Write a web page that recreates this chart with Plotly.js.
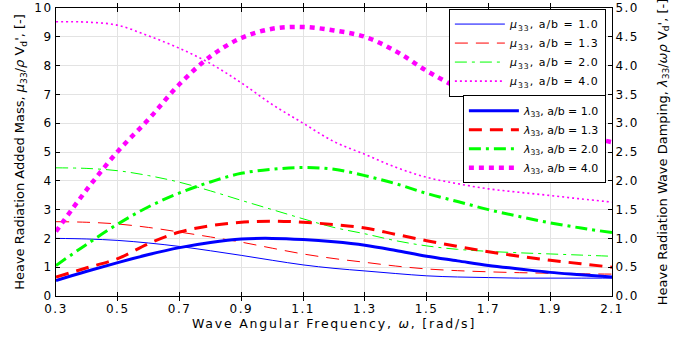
<!DOCTYPE html>
<html><head><meta charset="utf-8">
<script src="https://cdn.plot.ly/plotly-3.0.1.min.js"></script>
<style>html,body{margin:0;padding:0;background:#fff}#chart{width:676px;height:339px}
.xtick text,.ytick text,.y2tick text{letter-spacing:1.5px}
.xtitle{letter-spacing:1.8px}
.legendtext{letter-spacing:1px}
</style>
</head><body><div id="chart"></div>
<script>
const omega = [0.3,0.4,0.5,0.6,0.7,0.8,0.9,1.0,1.1,1.2,1.3,1.4,1.5,1.6,1.7,1.8,1.9,2.0,2.1];
// added mass (left axis)
const mu_10 = [2.00,1.98,1.93,1.84,1.72,1.57,1.41,1.24,1.08,0.96,0.87,0.78,0.70,0.66,0.64,0.62,0.62,0.62,0.62];
const mu_13 = [2.58,2.56,2.50,2.38,2.22,2.05,1.87,1.66,1.46,1.30,1.17,1.04,0.94,0.88,0.84,0.81,0.79,0.77,0.76];
const mu_20 = [4.45,4.43,4.35,4.18,3.95,3.65,3.32,3.00,2.68,2.38,2.16,1.92,1.74,1.62,1.55,1.50,1.46,1.42,1.38];
const mu_40 = [9.52,9.51,9.40,9.03,8.60,8.07,7.40,6.65,6.00,5.36,4.92,4.47,4.12,3.90,3.72,3.60,3.49,3.37,3.26];
// wave damping (right axis)
const lam_10 = [0.27,0.43,0.58,0.72,0.84,0.93,0.99,1.00,0.98,0.94,0.88,0.79,0.69,0.61,0.53,0.47,0.41,0.37,0.33];
const lam_13 = [0.33,0.49,0.65,0.91,1.11,1.22,1.28,1.30,1.28,1.24,1.18,1.07,0.96,0.86,0.77,0.69,0.62,0.56,0.50];
const lam_20 = [0.53,0.90,1.25,1.55,1.79,1.98,2.13,2.20,2.23,2.20,2.09,1.95,1.78,1.64,1.50,1.38,1.27,1.18,1.10];
const lam_40 = [1.12,1.85,2.51,3.07,3.68,4.16,4.48,4.64,4.67,4.61,4.50,4.25,3.91,3.62,3.40,3.18,2.98,2.80,2.67];
const ratios = ['1.0','1.3','2.0','4.0'];
const colors = ['#0000ff','#ff0000','#00ff00','#ff00ff'];
const muDash = ['solid','13px,8px','12px,5px,3px,5px','2px,3px'];
const lamDash = ['solid','13px,8px','12px,5px,3px,5px','5px,5px'];
const muWidth = [1,1,1,1.6];
const lamWidth = [3,3,3,4.5];
const muData = [mu_10, mu_13, mu_20, mu_40];
const lamData = [lam_10, lam_13, lam_20, lam_40];

const traces = [];
muData.forEach((d,i)=>traces.push({x:omega,y:d,type:'scatter',mode:'lines',
  name:'<i>μ</i><sub>33</sub>, a/b = '+ratios[i],legend:'legend',
  line:{color:colors[i],width:muWidth[i],dash:muDash[i],shape:'spline',smoothing:1}}));
lamData.forEach((d,i)=>traces.push({x:omega,y:d,type:'scatter',mode:'lines',yaxis:'y2',
  name:'<i>λ</i><sub>33</sub>, a/b = '+ratios[i],legend:'legend2',
  line:{color:colors[i],width:lamWidth[i],dash:lamDash[i],shape:'spline',smoothing:1}}));

const fam = 'DejaVu Sans, Liberation Sans, sans-serif';
const tickFont = {family:fam,size:12,color:'#000'};
const xTitleFont = {family:fam,size:12.5,color:'#000'};
const yTitleFont = {family:fam,size:13,color:'#000'};
const legFont = {family:fam,size:11,color:'#000'};
const layout = {
  width:676,height:339,margin:{l:56,r:64,t:8,b:43},
  paper_bgcolor:'#fff',plot_bgcolor:'#fff',font:tickFont,
  xaxis:{range:[0.3,2.1],tickvals:[0.3,0.5,0.7,0.9,1.1,1.3,1.5,1.7,1.9,2.1],
    ticktext:['0.3','0.5','0.7','0.9','1.1','1.3','1.5','1.7','1.9','2.1'],tickfont:tickFont,
    showgrid:true,gridcolor:'#e3e3e3',zeroline:false,showline:true,linecolor:'#000',linewidth:1,
    mirror:'allticks',ticks:'inside',ticklen:4,tickcolor:'#000',ticklabelstandoff:2,
    title:{text:'Wave Angular Frequency, <i>ω</i>, [rad/s]',font:xTitleFont,standoff:0}},
  yaxis:{range:[0,10],dtick:1,tickfont:tickFont,showgrid:true,gridcolor:'#e3e3e3',zeroline:false,showline:true,
    linecolor:'#000',linewidth:1,ticks:'inside',ticklen:4,tickcolor:'#000',
    title:{text:'Heave Radiation Added Mass, <i>μ</i><sub>33</sub>/<i>ρ</i> V<sub>d</sub>\', [-]',font:yTitleFont,standoff:6}},
  yaxis2:{range:[0,5],dtick:0.5,tickformat:'.1f',tickfont:tickFont,overlaying:'y',side:'right',showgrid:false,zeroline:false,
    showline:true,linecolor:'#000',linewidth:1,ticks:'inside',ticklen:4,tickcolor:'#000',
    title:{text:'Heave Radiation Wave Damping, <i>λ</i><sub>33</sub>/<i>ωρ</i> V<sub>d</sub>\', [-]',font:yTitleFont,standoff:19}},
  legend:{x:0.989,xanchor:'right',y:0.998,yanchor:'top',bgcolor:'#fff',bordercolor:'#000',borderwidth:1,
    font:legFont,tracegroupgap:0,itemwidth:50},
  legend2:{x:0.989,xanchor:'right',y:0.697,yanchor:'top',bgcolor:'#fff',bordercolor:'#000',borderwidth:1,
    font:legFont,tracegroupgap:0,itemwidth:50},
  showlegend:true
};
Plotly.newPlot('chart',traces,layout,{staticPlot:true,displayModeBar:false});
</script></body></html>
